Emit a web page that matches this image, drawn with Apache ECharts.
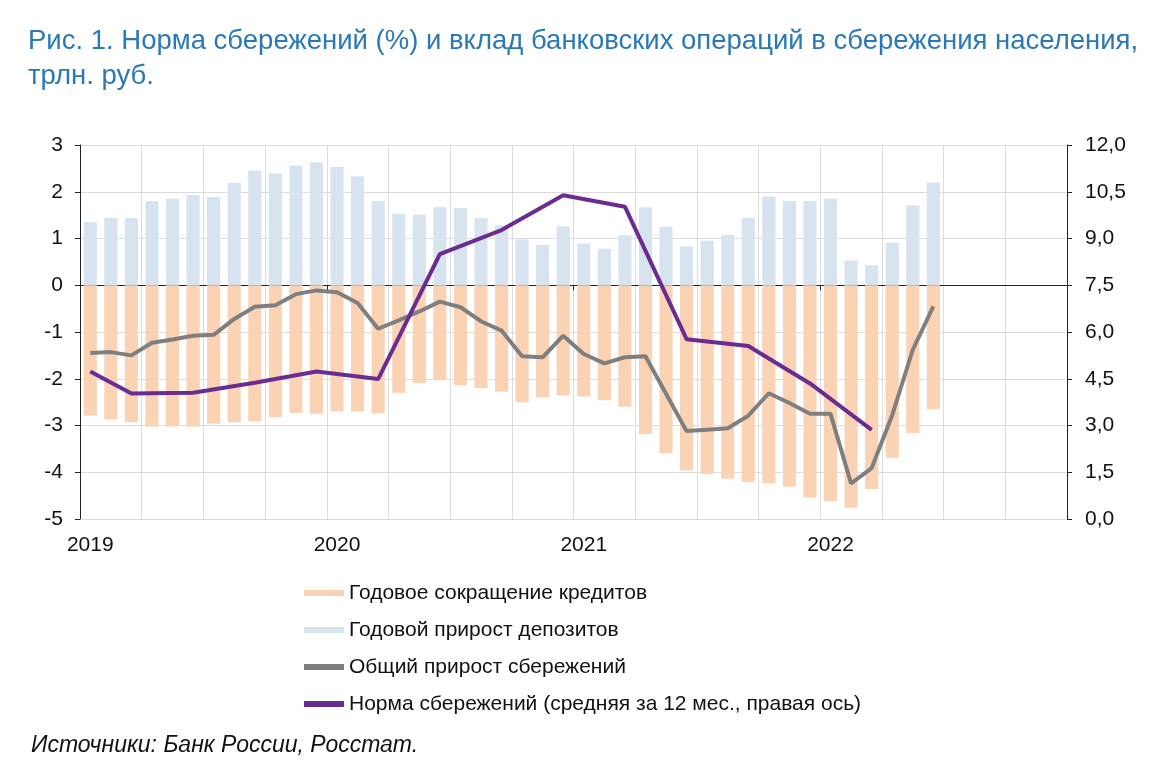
<!DOCTYPE html>
<html>
<head>
<meta charset="utf-8">
<script src="https://cdn.jsdelivr.net/npm/echarts@6/dist/echarts.min.js"></script>
<style>
html,body{margin:0;padding:0;background:#fff;}
#chart{width:1170px;height:765px;}
</style>
</head>
<body>
<div id="chart"></div>
<script>
// Categories: months Jan 2019 .. Dec 2022
var years = ['2019', '2020', '2021', '2022'];
var monthNums = ['01','02','03','04','05','06','07','08','09','10','11','12'];
var categories = [];
years.forEach(function (y) { monthNums.forEach(function (m) { categories.push(y + '-' + m); }); });

// Годовой прирост депозитов, трлн руб. (Jan 2019 .. Jun 2022)
var deposits = [
  1.35, 1.44, 1.44, 1.80, 1.85, 1.93, 1.89, 2.19, 2.45, 2.39, 2.56, 2.63,
  2.53, 2.33, 1.80, 1.53, 1.51, 1.67, 1.65, 1.44, 1.28, 0.98, 0.86, 1.26,
  0.89, 0.78, 1.07, 1.67, 1.25, 0.83, 0.95, 1.08, 1.44, 1.90, 1.80, 1.80,
  1.85, 0.53, 0.43, 0.91, 1.71, 2.20
];
// Годовое сокращение кредитов, трлн руб.
var credits = [
  -2.79, -2.87, -2.93, -3.02, -3.02, -3.02, -2.96, -2.93, -2.91, -2.82, -2.73, -2.75,
  -2.70, -2.70, -2.74, -2.30, -2.09, -2.03, -2.14, -2.20, -2.28, -2.50, -2.40, -2.36,
  -2.38, -2.46, -2.60, -3.18, -3.60, -3.96, -4.04, -4.14, -4.21, -4.23, -4.31, -4.54,
  -4.62, -4.76, -4.36, -3.69, -3.16, -2.65
];
// Общий прирост сбережений, трлн руб.
var totalSavings = [
  -1.45, -1.43, -1.50, -1.23, -1.16, -1.08, -1.06, -0.72, -0.46, -0.43, -0.19, -0.11,
  -0.15, -0.38, -0.93, -0.75, -0.56, -0.35, -0.47, -0.77, -0.97, -1.52, -1.54, -1.08,
  -1.47, -1.67, -1.54, -1.52, -2.32, -3.12, -3.09, -3.06, -2.79, -2.31, -2.52, -2.75,
  -2.75, -4.24, -3.91, -2.78, -1.38, -0.45
];
// Норма сбережений, % (средняя за 12 мес., правая ось) — quarterly points
var savingsRate = [
  4.73, null, 4.03, null, null, 4.05, null, null, 4.37, null, null, 4.73,
  null, null, 4.49, null, null, 8.50, null, null, 9.27, null, null, 10.39,
  null, null, 10.02, null, null, 5.77, null, null, 5.55, null, null, 4.35,
  null, null, 2.86
];

var seriesNames = [
  'Годовое сокращение кредитов',
  'Годовой прирост депозитов',
  'Общий прирост сбережений',
  'Норма сбережений (средняя за 12 мес., правая ось)'
];

var FONT = '"Liberation Sans", Arial, sans-serif';
var chart = echarts.init(document.getElementById('chart'), null, {renderer: 'canvas'});

chart.setOption({
  animation: false,
  backgroundColor: '#ffffff',
  title: [{
    text: 'Рис. 1. Норма сбережений (%) и вклад банковских операций в сбережения населения,\nтрлн. руб.',
    left: 23,
    top: 19,
    textStyle: {fontFamily: FONT, fontSize: 27.5, fontWeight: 'normal', color: '#2A78B5', lineHeight: 35}
  }, {
    text: 'Источники: Банк России, Росстат.',
    left: 26,
    top: 729,
    textStyle: {fontFamily: FONT, fontSize: 23, fontWeight: 'normal', fontStyle: 'italic', color: '#111111'}
  }],
  legend: {
    orient: 'vertical',
    left: 299,
    top: 577,
    icon: 'rect',
    itemWidth: 40,
    itemHeight: 6,
    itemGap: 15,
    textStyle: {fontFamily: FONT, fontSize: 21, color: '#111111', lineHeight: 22},
    data: seriesNames
  },
  grid: {left: 80, right: 103, top: 145, bottom: 246, containLabel: false},
  xAxis: [{
    type: 'category',
    data: categories,
    position: 'bottom',
    boundaryGap: true,
    axisLine: {show: false, onZero: false},
    axisTick: {show: false},
    axisLabel: {
      interval: 11,
      margin: 16,
      fontFamily: FONT, fontSize: 21, color: '#111111',
      formatter: function (v) { return v.slice(0, 4); }
    },
    splitLine: {show: true, interval: 2, lineStyle: {color: '#DCDCDC', width: 1}}
  }, {
    type: 'category',
    data: categories,
    position: 'top',
    boundaryGap: true,
    axisLine: {show: true, onZero: true, onZeroAxisIndex: 0, lineStyle: {color: '#222222', width: 1}},
    axisTick: {show: true, inside: true, interval: 11, length: 5, lineStyle: {color: '#222222'}},
    axisLabel: {show: false},
    splitLine: {show: false}
  }],
  yAxis: [{
    type: 'value',
    min: -5, max: 3, interval: 1,
    position: 'left',
    axisLine: {show: true, lineStyle: {color: '#222222'}},
    axisTick: {show: true, length: 5, lineStyle: {color: '#222222'}},
    axisLabel: {margin: 17, fontFamily: FONT, fontSize: 21, color: '#111111'},
    splitLine: {show: true, lineStyle: {color: '#DCDCDC', width: 1}}
  }, {
    type: 'value',
    min: 0, max: 12, interval: 1.5,
    position: 'right',
    axisLine: {show: true, lineStyle: {color: '#222222'}},
    axisTick: {show: true, length: 5, lineStyle: {color: '#222222'}},
    axisLabel: {
      margin: 18, fontFamily: FONT, fontSize: 21, color: '#111111',
      formatter: function (v) { return v.toFixed(1).replace('.', ','); }
    },
    splitLine: {show: false}
  }],
  series: [{
    name: seriesNames[0],
    type: 'bar',
    xAxisIndex: 0, yAxisIndex: 0,
    data: credits,
    barWidth: '64%',
    barGap: '-100%',
    itemStyle: {color: '#FAD3B4'},
    z: 2
  }, {
    name: seriesNames[1],
    type: 'bar',
    xAxisIndex: 0, yAxisIndex: 0,
    data: deposits,
    barWidth: '64%',
    barGap: '-100%',
    itemStyle: {color: '#D8E3F0'},
    z: 2
  }, {
    name: seriesNames[2],
    type: 'line',
    xAxisIndex: 0, yAxisIndex: 0,
    data: totalSavings,
    symbol: 'none',
    lineStyle: {color: '#7F7F7F', width: 4},
    itemStyle: {color: '#7F7F7F'},
    z: 3
  }, {
    name: seriesNames[3],
    type: 'line',
    xAxisIndex: 0, yAxisIndex: 1,
    data: savingsRate,
    connectNulls: true,
    symbol: 'none',
    lineStyle: {color: '#6A2C91', width: 4},
    itemStyle: {color: '#6A2C91'},
    z: 4
  }]
});
</script>
</body>
</html>
